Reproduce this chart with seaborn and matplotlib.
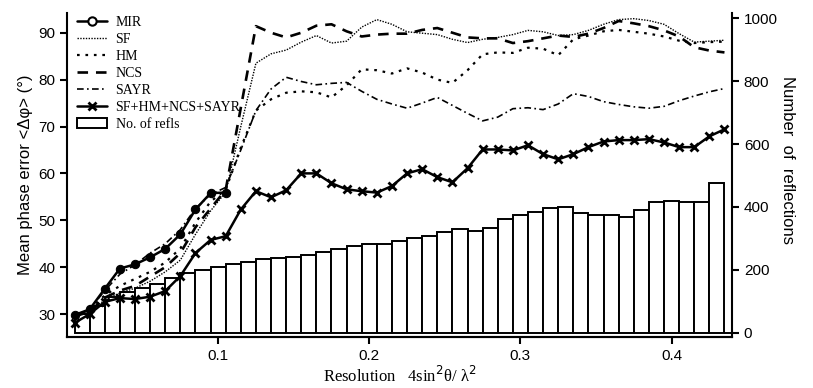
import numpy as np
import pandas as pd
import matplotlib
matplotlib.use("Agg")
import matplotlib.pyplot as plt
import seaborn as sns
from matplotlib.lines import Line2D
from matplotlib.patches import Patch

# ---------------- data ----------------
res = [0.005, 0.015, 0.025, 0.035, 0.045, 0.055, 0.065, 0.075, 0.085, 0.095,
       0.105, 0.115, 0.125, 0.135, 0.145, 0.155, 0.165, 0.175, 0.185, 0.195,
       0.205, 0.215, 0.225, 0.235, 0.245, 0.255, 0.265, 0.275, 0.285, 0.295,
       0.305, 0.315, 0.325, 0.335, 0.345, 0.355, 0.365, 0.375, 0.385, 0.395,
       0.405, 0.415, 0.425, 0.435]

mir_res = res[:11]
mir = [29.8, 31.0, 35.4, 39.7, 40.6, 42.1, 43.9, 47.0, 52.3, 55.8, 55.9]

sf = [29.5, 30.5, 33.0, 34.5, 35.5, 37.0, 39.0, 41.5, 47.0, 52.0, 56.0,
      70.0, 83.5, 85.5, 86.3, 88.0, 89.4, 87.8, 88.2, 91.2, 92.8, 91.8,
      90.2, 89.9, 89.6, 88.6, 87.9, 88.6, 89.0, 89.6, 90.5, 90.2, 89.4,
      89.6, 90.5, 91.8, 92.8, 93.0, 92.6, 91.8, 89.8, 88.0, 88.2, 88.4]

hm = [29.5, 31.0, 34.0, 36.0, 37.5, 39.0, 41.0, 44.0, 49.5, 54.0, 56.5,
      65.5, 73.4, 75.8, 77.2, 77.5, 77.3, 76.2, 78.8, 82.2, 82.0, 81.3,
      82.4, 81.5, 80.0, 79.3, 82.0, 85.4, 85.8, 85.7, 86.8, 86.6, 85.2,
      88.6, 89.4, 90.3, 90.6, 90.2, 89.8, 89.2, 88.3, 87.8, 88.0, 88.1]

ncs = [29.5, 30.5, 33.5, 35.0, 36.0, 38.0, 40.0, 43.0, 48.5, 52.5, 56.5,
       74.0, 91.4, 90.0, 89.0, 90.0, 91.5, 91.8, 90.3, 89.2, 89.6, 89.8,
       89.8, 90.6, 91.0, 90.0, 89.0, 88.8, 88.8, 87.8, 88.2, 88.8, 89.4,
       89.1, 89.8, 91.0, 92.5, 92.0, 91.4, 90.5, 89.2, 86.9, 86.2, 85.8]

sayr = [29.5, 31.0, 35.0, 38.5, 40.5, 43.0, 45.0, 48.0, 52.5, 55.5, 57.0,
        65.0, 73.4, 78.0, 80.5, 79.6, 78.9, 79.2, 79.4, 77.5, 75.8, 74.8,
        73.9, 75.0, 76.2, 74.5, 72.8, 71.2, 72.0, 73.8, 74.0, 73.6, 74.8,
        77.0, 76.4, 75.3, 74.7, 74.2, 73.9, 74.3, 75.5, 76.5, 77.4, 78.1]

combined = [28.1, 30.0, 32.6, 33.4, 33.2, 33.7, 34.9, 38.1, 43.0, 45.8, 46.6,
            52.3, 56.2, 54.9, 56.4, 60.0, 60.0, 57.9, 56.6, 56.2, 55.9, 57.3,
            60.0, 60.9, 59.2, 58.1, 61.1, 65.1, 65.1, 64.9, 66.0, 64.1, 63.0,
            64.1, 65.6, 66.8, 67.1, 67.1, 67.3, 66.6, 65.6, 65.6, 67.9, 69.4]

bin_centers = [0.01, 0.02, 0.03, 0.04, 0.05, 0.06, 0.07, 0.08, 0.09, 0.10,
               0.11, 0.12, 0.13, 0.14, 0.15, 0.16, 0.17, 0.18, 0.19, 0.20,
               0.21, 0.22, 0.23, 0.24, 0.25, 0.26, 0.27, 0.28, 0.29, 0.30,
               0.31, 0.32, 0.33, 0.34, 0.35, 0.36, 0.37, 0.38, 0.39, 0.40,
               0.41, 0.42, 0.43]
n_refls = [60, 85, 115, 131, 144, 156, 176, 189, 200, 208,
           218, 226, 234, 238, 240, 248, 256, 268, 277, 283,
           284, 293, 303, 309, 322, 329, 325, 333, 362, 376,
           383, 396, 399, 380, 373, 373, 369, 390, 416, 419,
           415, 417, 477]
bin_edges = res  # bar edges coincide with the sampling points

# ---------------- figure ----------------
sns.set_theme(style="ticks")
plt.rcParams["font.family"] = ["Liberation Sans", "DejaVu Sans"]
plt.rcParams["axes.labelcolor"] = "black"
plt.rcParams["text.color"] = "black"
serif = ["Liberation Serif", "DejaVu Serif"]

fig = plt.figure(figsize=(8.13, 3.88), dpi=100)
ax = fig.add_axes([0.0824, 0.1314, 0.818, 0.835])
ax2 = ax.twinx()

# bars (number of reflections) on right axis
bars_df = pd.DataFrame({"res": bin_centers, "n": n_refls})
sns.histplot(data=bars_df, x="res", weights="n", bins=bin_edges + [0.445],
             ax=ax2, color="white", edgecolor="black", linewidth=1.4,
             alpha=1.0, legend=False)
ax2.set_ylim(-13, 1016)
ax2.set_yticks([0, 200, 400, 600, 800, 1000])
ax2.set_ylabel("Number  of  reflections", rotation=270, fontsize=12,
               color="black")
ax2.yaxis.set_label_coords(1.095, 0.545)

# lines on left axis (drawn above bars)
ax.set_zorder(ax2.get_zorder() + 1)
ax.patch.set_visible(False)

k = dict(ax=ax, color="black", legend=False, estimator=None)
sns.lineplot(x=mir_res, y=mir, lw=1.8, marker="o", markersize=6,
             markerfacecolor="black", markeredgecolor="black", **k)
sns.lineplot(x=res, y=sf, lw=1.0, **k)
ax.lines[-1].set_dashes((1, 1))
sns.lineplot(x=res, y=hm, lw=1.6, **k)
ax.lines[-1].set_dashes((1.2, 2.6))
sns.lineplot(x=res, y=ncs, lw=1.9, **k)
ax.lines[-1].set_dashes((4, 3))
sns.lineplot(x=res, y=sayr, lw=1.2, **k)
ax.lines[-1].set_dashes((4, 2, 1, 2))
sns.lineplot(x=res, y=combined, lw=1.8, marker="x", markersize=6,
             markeredgewidth=2, markeredgecolor="black", **k)

ax.set_xlim(0, 0.44)
ax.set_ylim(25.1, 94.2)
ax2.set_xlim(0, 0.44)
ax.set_xticks([0.1, 0.2, 0.3, 0.4])
ax.set_xticklabels(["0.1", "0.2", "0.3", "0.4"])
ax.set_yticks([30, 40, 50, 60, 70, 80, 90])
ax.set_xlabel("Resolution   4sin$^2$θ/ λ$^2$", family=serif, fontsize=12,
              labelpad=2, color="black")
ax.set_ylabel("Mean phase error <Δφ> (°)", fontsize=12, labelpad=4,
              color="black")

for a in (ax, ax2):
    a.spines["top"].set_visible(False)
    for s in a.spines.values():
        s.set_linewidth(1.5)
        s.set_color("black")
    a.tick_params(direction="out", width=1.5, length=5, labelsize=11,
                  colors="black", labelcolor="black")
ax2.spines["left"].set_visible(False)
ax.spines["right"].set_visible(False)

handles = [
    Line2D([], [], color="black", lw=1.8, marker="o", markersize=6,
           markerfacecolor="white", markeredgewidth=1.5),
    Line2D([], [], color="black", lw=1.0, dashes=(1, 1)),
    Line2D([], [], color="black", lw=1.6, dashes=(1.2, 2.6)),
    Line2D([], [], color="black", lw=1.9, dashes=(4, 3)),
    Line2D([], [], color="black", lw=1.2, dashes=(4, 2, 1, 2)),
    Line2D([], [], color="black", lw=1.8, marker="x", markersize=6,
           markeredgewidth=2),
    Patch(facecolor="white", edgecolor="black", linewidth=1.4),
]
labels = ["MIR", "SF", "HM", "NCS", "SAYR", "SF+HM+NCS+SAYR", "No. of refls"]
leg = ax.legend(handles, labels, loc="upper left", bbox_to_anchor=(0.0, 1.02),
                frameon=False, prop={"family": serif, "size": 10},
                handlelength=2.2, handletextpad=0.6, labelspacing=0.28,
                borderaxespad=0.3)
for t in leg.get_texts():
    t.set_color("black")

fig.savefig("out.png", dpi=100)
